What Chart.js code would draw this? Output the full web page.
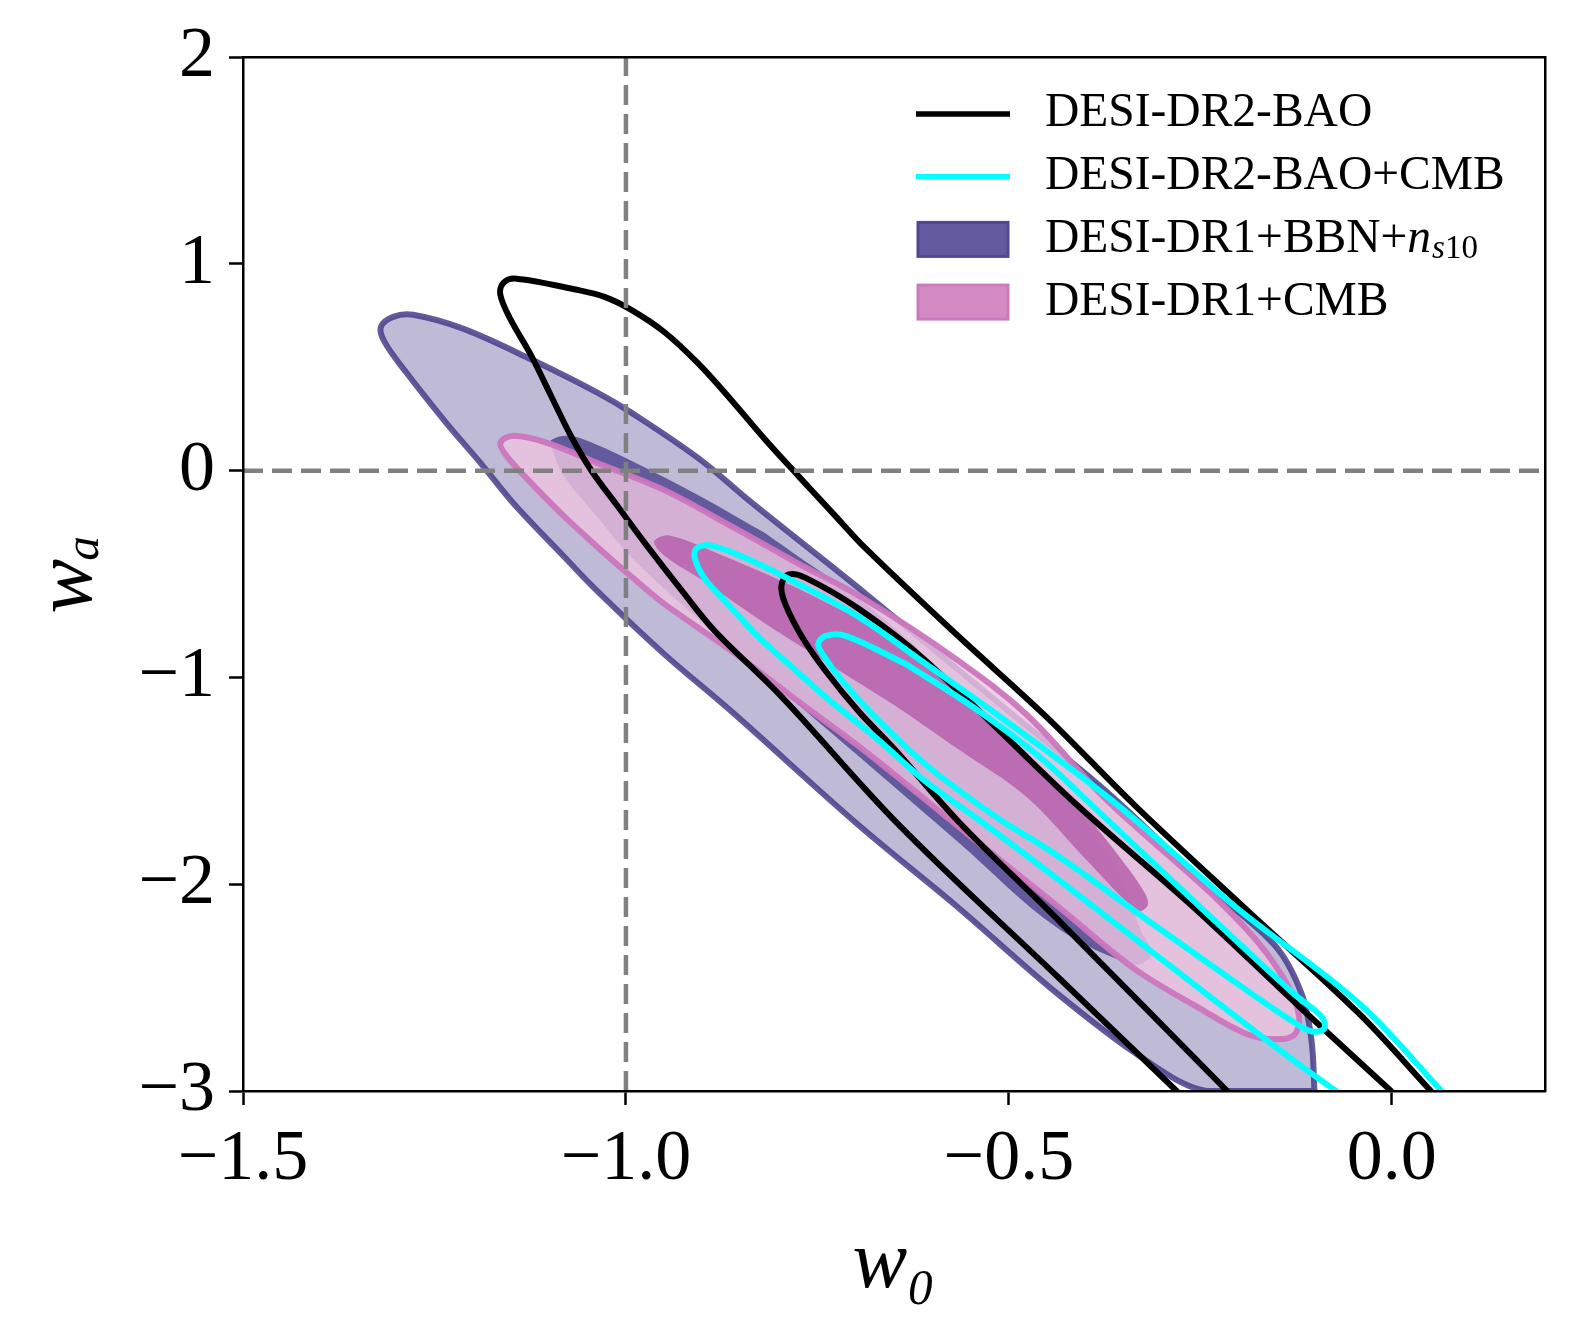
<!DOCTYPE html>
<html>
<head>
<meta charset="utf-8">
<title>w0 - wa</title>
<script src="https://cdn.jsdelivr.net/npm/chart.js@4.4.1/dist/chart.umd.min.js"></script>
<style>
    html, body { margin: 0; padding: 0; background: #ffffff; }
    canvas { display: block; }
</style>
</head>
<body>
<canvas id="grafica_w0wa" width="1577" height="1333"></canvas>
<script>
// Contour points, as [w0, wa] pairs.
var xLimits = [-1.5, 0.2];
var yLimits = [-3, 2];
var xTicks = [-1.5, -1.0, -0.5, 0.0];
var yTicks = [-3, -2, -1, 0, 1, 2];
var w0Lcdm = -1;
var waLcdm = 0;

var legendLabels = ['DESI-DR2-BAO', 'DESI-DR2-BAO+CMB', 'DESI-DR1+BBN+n_s10', 'DESI-DR1+CMB'];

// DESI-DR2-BAO, 95% and 68% (both leave the plot at the bottom)
var dr2BaoOuter = [
    [-0.281, -3.0], [-0.437, -2.445], [-0.643, -1.715], [-0.796, -1.096],
    [-0.884, -0.775], [-0.927, -0.580], [-0.972, -0.366], [-1.011, -0.171],
    [-1.045, 0.0], [-1.072, 0.169], [-1.098, 0.364], [-1.124, 0.559],
    [-1.151, 0.734], [-1.164, 0.851], [-1.160, 0.909], [-1.143, 0.929],
    [-1.064, 0.875], [-1.028, 0.841], [-0.993, 0.778], [-0.950, 0.671],
    [-0.906, 0.520], [-0.862, 0.340], [-0.818, 0.150], [-0.775, -0.025],
    [-0.730, -0.205], [-0.687, -0.376], [-0.569, -0.790], [-0.450, -1.194],
    [-0.336, -1.617], [-0.188, -2.129], [-0.043, -2.625], [0.051, -3.0]
];
var dr2BaoInner = [
    [-0.215, -3.0], [-0.437, -2.168], [-0.565, -1.700], [-0.651, -1.340],
    [-0.696, -1.165], [-0.739, -0.970], [-0.770, -0.804], [-0.792, -0.644],
    [-0.797, -0.556], [-0.788, -0.502], [-0.766, -0.517], [-0.696, -0.668],
    [-0.608, -0.921], [-0.411, -1.617], [-0.261, -2.104], [-0.121, -2.591],
    [-0.001, -3.0]
];

// DESI-DR2-BAO+CMB, 95% (open at the bottom) and 68% (closed)
var dr2CmbOuter = [
    [-0.073, -3.0], [-0.135, -2.834], [-0.306, -2.348], [-0.437, -1.973],
    [-0.542, -1.681], [-0.608, -1.505], [-0.674, -1.291], [-0.739, -1.096],
    [-0.783, -0.950], [-0.827, -0.804], [-0.871, -0.629], [-0.897, -0.522],
    [-0.910, -0.425], [-0.908, -0.376], [-0.890, -0.361], [-0.848, -0.415],
    [-0.783, -0.532], [-0.696, -0.707], [-0.608, -0.936], [-0.503, -1.213],
    [-0.358, -1.617], [-0.206, -2.104], [-0.043, -2.576], [0.065, -3.0]
];
var dr2CmbInner = [
    [-0.634, -0.936], [-0.546, -1.145], [-0.460, -1.384], [-0.389, -1.627],
    [-0.246, -2.125], [-0.128, -2.530], [-0.092, -2.640], [-0.088, -2.697],
    [-0.104, -2.712], [-0.129, -2.665], [-0.181, -2.535], [-0.312, -2.192],
    [-0.437, -1.861], [-0.520, -1.666], [-0.608, -1.423], [-0.674, -1.194],
    [-0.717, -1.019], [-0.739, -0.911], [-0.749, -0.838], [-0.739, -0.799],
    [-0.713, -0.799], [-0.634, -0.936]
];

// DESI-DR1+BBN+ns10, 95% (cut by the bottom axis) and 68%
var dr1BbnOuter = [
    [-0.101, -3.0], [-0.243, -3.0], [-0.328, -2.834], [-0.437, -2.528],
    [-0.569, -2.104], [-0.696, -1.715], [-0.862, -1.165], [-0.950, -0.887],
    [-1.038, -0.580], [-1.081, -0.415], [-1.147, -0.157], [-1.190, 0.038],
    [-1.235, 0.233], [-1.287, 0.476], [-1.315, 0.622], [-1.320, 0.695],
    [-1.304, 0.744], [-1.278, 0.754], [-1.212, 0.686], [-1.124, 0.539],
    [-1.038, 0.379], [-0.993, 0.281], [-0.906, 0.062], [-0.835, -0.157],
    [-0.687, -0.595], [-0.503, -1.155], [-0.372, -1.554], [-0.240, -2.012],
    [-0.152, -2.299], [-0.118, -2.528], [-0.105, -2.752], [-0.101, -3.0]
];
var dr1BbnInner = [
    [-0.818, -0.303], [-0.775, -0.415], [-0.687, -0.644], [-0.569, -1.033],
    [-0.437, -1.520], [-0.358, -1.934], [-0.328, -2.220], [-0.314, -2.340],
    [-0.336, -2.388], [-0.437, -2.210], [-0.565, -1.800], [-0.687, -1.410],
    [-0.766, -1.160], [-0.818, -0.990], [-0.906, -0.715], [-0.993, -0.418],
    [-1.038, -0.220], [-1.081, -0.025], [-1.097, 0.111], [-1.097, 0.150],
    [-1.074, 0.169], [-1.038, 0.126], [-0.993, 0.048], [-0.906, -0.118],
    [-0.818, -0.303]
];

// DESI-DR1+CMB, 95% and 68%
var dr1CmbOuter = [
    [-0.775, -0.449], [-0.687, -0.624], [-0.569, -0.911], [-0.477, -1.179],
    [-0.372, -1.593], [-0.240, -2.031], [-0.175, -2.280], [-0.135, -2.495],
    [-0.121, -2.640], [-0.127, -2.727], [-0.150, -2.750], [-0.188, -2.727],
    [-0.251, -2.600], [-0.335, -2.412], [-0.437, -2.104], [-0.555, -1.754],
    [-0.687, -1.359], [-0.775, -1.116], [-0.862, -0.872], [-0.950, -0.644],
    [-0.993, -0.512], [-1.038, -0.366], [-1.081, -0.220], [-1.124, -0.059],
    [-1.156, 0.072], [-1.164, 0.135], [-1.147, 0.169], [-1.103, 0.135],
    [-1.038, 0.038], [-0.950, -0.094], [-0.862, -0.269], [-0.775, -0.449]
];
var dr1CmbInner = [
    [-0.696, -0.717], [-0.608, -0.945], [-0.503, -1.277], [-0.411, -1.617],
    [-0.352, -1.885], [-0.322, -2.046], [-0.319, -2.104], [-0.332, -2.128],
    [-0.398, -1.885], [-0.477, -1.578], [-0.565, -1.350], [-0.651, -1.131],
    [-0.739, -0.926], [-0.827, -0.717], [-0.897, -0.537], [-0.950, -0.410],
    [-0.963, -0.342], [-0.943, -0.313], [-0.871, -0.415], [-0.783, -0.556],
    [-0.696, -0.717]
];

var SERIF = "'Liberation Serif', 'DejaVu Serif', serif";
var LINE_W = 6;

// Turns [w0, wa] pairs into points for the scatter datasets.
function toPoints(pairs) {
    return pairs.map(function (p) { return {x: p[0], y: p[1]}; });
}

function minusSign(text) {
    return String(text).replace('-', '\u2212');
}

// A contour line or a filled contour.
function contour(pairs, edge, width, fillColor, order) {
    return {
        data: toPoints(pairs),
        showLine: true,
        borderColor: edge || 'rgba(0,0,0,0)',
        borderWidth: width,
        backgroundColor: fillColor || 'rgba(0,0,0,0)',
        fill: fillColor ? 'shape' : false,
        tension: 0.35,
        pointRadius: 0,
        pointHitRadius: 0,
        borderJoinStyle: 'round',
        borderCapStyle: 'round',
        clip: 0,
        order: order
    };
}

function refLine(points) {
    return {
        data: points,
        showLine: true,
        borderColor: '#808080',
        borderWidth: 4.5,
        borderDash: [20, 9],
        pointRadius: 0,
        fill: false,
        clip: 0,
        order: 0
    };
}

var purpleEdge = 'rgba(72, 61, 139, 0.85)';
var pinkEdge = 'rgba(204, 118, 190, 0.95)';

var datasets = [
    refLine([{x: w0Lcdm, y: yLimits[0]}, {x: w0Lcdm, y: yLimits[1]}]),
    refLine([{x: xLimits[0], y: waLcdm}, {x: xLimits[1], y: waLcdm}]),
    contour(dr2CmbOuter, '#00ffff', LINE_W, null, 1),
    contour(dr2CmbInner, '#00ffff', LINE_W, null, 1),
    contour(dr2BaoOuter, '#000000', LINE_W, null, 2),
    contour(dr2BaoInner, '#000000', LINE_W, null, 2),
    contour(dr1CmbInner, null, 0, 'rgba(182, 93, 171, 0.82)', 3),
    contour(dr1CmbOuter, pinkEdge, LINE_W, 'rgba(237, 197, 225, 0.82)', 4),
    contour(dr1BbnInner, null, 0, 'rgba(72, 61, 139, 0.77)', 5),
    contour(dr1BbnOuter, purpleEdge, LINE_W, 'rgba(72, 61, 139, 0.35)', 6)
];

// Legend drawn inside the axes, top right, like the original.
var legendStyles = [
    {kind: 'line', color: '#000000'},
    {kind: 'line', color: '#00ffff'},
    {kind: 'patch', color: 'rgb(98, 90, 158)', edge: 'rgb(80, 72, 146)'},
    {kind: 'patch', color: 'rgb(212, 139, 196)', edge: 'rgb(204, 122, 190)'}
];

function drawLabel(ctx, text, x, y, size) {
    var parts = text.split('_');
    var base = parts[0];
    var sub = parts[1];
    if (sub === undefined) {
        ctx.font = size + 'px ' + SERIF;
        ctx.fillText(base, x, y);
        return;
    }
    var roman = base.slice(0, -1);
    var mathChar = base.slice(-1);
    ctx.font = size + 'px ' + SERIF;
    ctx.fillText(roman, x, y);
    x += ctx.measureText(roman).width;
    ctx.font = 'italic ' + size + 'px ' + SERIF;
    ctx.fillText(mathChar, x, y);
    x += ctx.measureText(mathChar).width + 1;
    var subSize = Math.round(size * 0.7);
    for (var i = 0; i < sub.length; i++) {
        var c = sub[i];
        var italic = /[a-z]/i.test(c);
        ctx.font = (italic ? 'italic ' : '') + subSize + 'px ' + SERIF;
        ctx.fillText(c, x, y + size * 0.2);
        x += ctx.measureText(c).width;
    }
}

var legendPlugin = {
    id: 'leyendaInterna',
    afterDraw: function (chart) {
        var ctx = chart.ctx;
        var handleLeft = 916;
        var handleRight = 1010;
        var textLeft = 1045;
        var firstY = 114;
        var rowStep = 62.7;
        ctx.save();
        ctx.textBaseline = 'middle';
        ctx.textAlign = 'left';
        for (var i = 0; i < legendLabels.length; i++) {
            var y = firstY + i * rowStep;
            var st = legendStyles[i];
            if (st.kind === 'line') {
                ctx.strokeStyle = st.color;
                ctx.lineWidth = 5.5;
                ctx.lineCap = 'butt';
                ctx.beginPath();
                ctx.moveTo(handleLeft, y);
                ctx.lineTo(handleRight, y);
                ctx.stroke();
            } else {
                ctx.fillStyle = st.color;
                ctx.fillRect(handleLeft + 2, y - 17, handleRight - handleLeft - 4, 34);
                ctx.strokeStyle = st.edge;
                ctx.lineWidth = 3;
                ctx.strokeRect(handleLeft + 2, y - 17, handleRight - handleLeft - 4, 34);
            }
            ctx.fillStyle = '#000000';
            drawLabel(ctx, legendLabels[i], textLeft, y, 47.5);
        }
        ctx.restore();
    }
};

function frameAxis(position) {
    return {
        type: 'linear',
        position: position,
        display: true,
        grid: {display: false, drawTicks: false},
        ticks: {display: false},
        border: {display: true, color: '#000000', width: 2.5, z: 1},
        afterFit: function (scale) {
            if (scale.isHorizontal()) {
                scale.height = 0;
            } else {
                scale.width = 0;
            }
        }
    };
}

var context = document.getElementById('grafica_w0wa').getContext('2d');
var chart = new Chart(context, {
    type: 'scatter',
    data: {datasets: datasets},
    plugins: [legendPlugin],
    options: {
        responsive: false,
        animation: false,
        devicePixelRatio: 1,
        events: [],
        layout: {padding: {top: 57, right: 32, left: 0, bottom: 0}},
        plugins: {
            legend: {display: false},
            tooltip: {enabled: false}
        },
        scales: {
            x: {
                type: 'linear',
                position: 'bottom',
                min: xLimits[0],
                max: xLimits[1],
                afterBuildTicks: function (scale) {
                    scale.ticks = xTicks.map(function (v) { return {value: v}; });
                },
                afterFit: function (scale) { scale.height = 242; },
                ticks: {
                    color: '#000000',
                    padding: 12,
                    font: {family: SERIF, size: 72},
                    callback: function (v) { return minusSign(Number(v).toFixed(1)); }
                },
                grid: {
                    drawOnChartArea: false,
                    drawTicks: true,
                    tickLength: 14,
                    tickWidth: 2.5,
                    tickColor: '#000000'
                },
                border: {display: true, color: '#000000', width: 2.5, z: 1},
                title: {
                    display: true,
                    text: 'w\u2080',
                    color: '#000000',
                    font: {family: SERIF, size: 82, style: 'italic'},
                    padding: {top: 0, bottom: 18}
                }
            },
            y: {
                type: 'linear',
                position: 'left',
                min: yLimits[0],
                max: yLimits[1],
                afterBuildTicks: function (scale) {
                    scale.ticks = yTicks.map(function (v) { return {value: v}; });
                },
                afterFit: function (scale) { scale.width = 243; },
                ticks: {
                    color: '#000000',
                    padding: 14,
                    font: {family: SERIF, size: 72},
                    callback: function (v) { return minusSign(v); }
                },
                grid: {
                    drawOnChartArea: false,
                    drawTicks: true,
                    tickLength: 14,
                    tickWidth: 2.5,
                    tickColor: '#000000'
                },
                border: {display: true, color: '#000000', width: 2.5, z: 1},
                title: {
                    display: true,
                    text: 'w\u2090',
                    color: '#000000',
                    font: {family: SERIF, size: 82, style: 'italic'},
                    padding: {top: 20, bottom: 0}
                }
            },
            xTop: frameAxis('top'),
            yRight: frameAxis('right')
        }
    }
});
</script>
</body>
</html>
